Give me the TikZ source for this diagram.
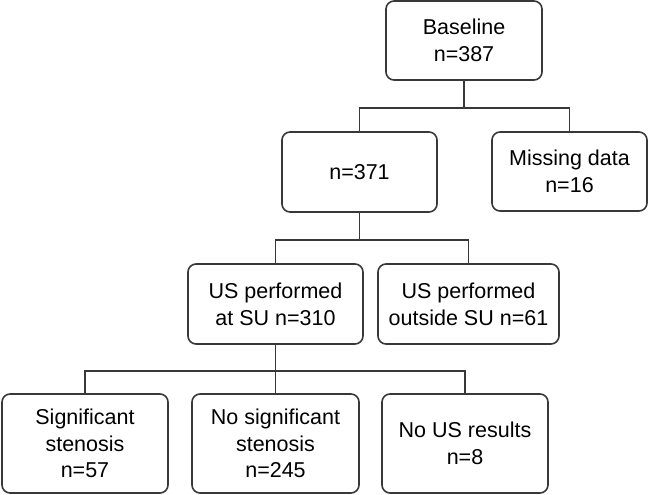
\documentclass[tikz,border=0pt]{standalone}
\usepackage{fontspec}
\setmainfont{Liberation Sans}
\begin{document}
\begin{tikzpicture}[x=1pt,y=-1pt,
  box/.style={draw=black!78, line width=1.6pt, rounded corners=8pt, align=center,
    inner sep=0pt, font=\fontsize{21.5}{26.7}\selectfont},
  link/.style={draw=black!78, line width=1.4pt}]
\useasboundingbox (0,0) rectangle (648,495);
% level 1
\node[box, minimum width=156pt, minimum height=79pt] (base) at (464,40.5) {Baseline\\n=387};
% level 2
\node[box, minimum width=155pt, minimum height=80pt] (n371) at (359.5,172) {n=371};
\node[box, minimum width=155pt, minimum height=79pt] (miss) at (569.5,171.5) {Missing data\\n=16};
% level 3
\node[box, minimum width=175pt, minimum height=80pt] (atsu) at (275.5,304) {US performed\\at SU n=310};
\node[box, minimum width=181pt, minimum height=80pt] (outsu) at (468.5,304) {US performed\\outside SU n=61};
% level 4
\node[box, minimum width=166pt, minimum height=99pt] (sig) at (85,443.5) {Significant\\stenosis\\n=57};
\node[box, minimum width=167pt, minimum height=99pt] (nosig) at (275.5,443.5) {No significant\\stenosis\\n=245};
\node[box, minimum width=166pt, minimum height=99pt] (nous) at (465,443.5) {No US results\\n=8};
% junctions
\coordinate (j1) at (464,108);
\coordinate (j2) at (359.5,240);
\coordinate (j3) at (275.5,371);
% connectors
\draw[link] (base.south) -- (j1);
\draw[link] (j1) -| (n371.north);
\draw[link] (j1) -| (miss.north);
\draw[link] (n371.south) -- (j2);
\draw[link] (j2) -| (atsu.north);
\draw[link] (j2) -| (outsu.north);
\draw[link] (atsu.south) -- (j3);
\draw[link] (j3) -| (sig.north);
\draw[link] (j3) -- (nosig.north);
\draw[link] (j3) -| (nous.north);
\end{tikzpicture}
\end{document}
